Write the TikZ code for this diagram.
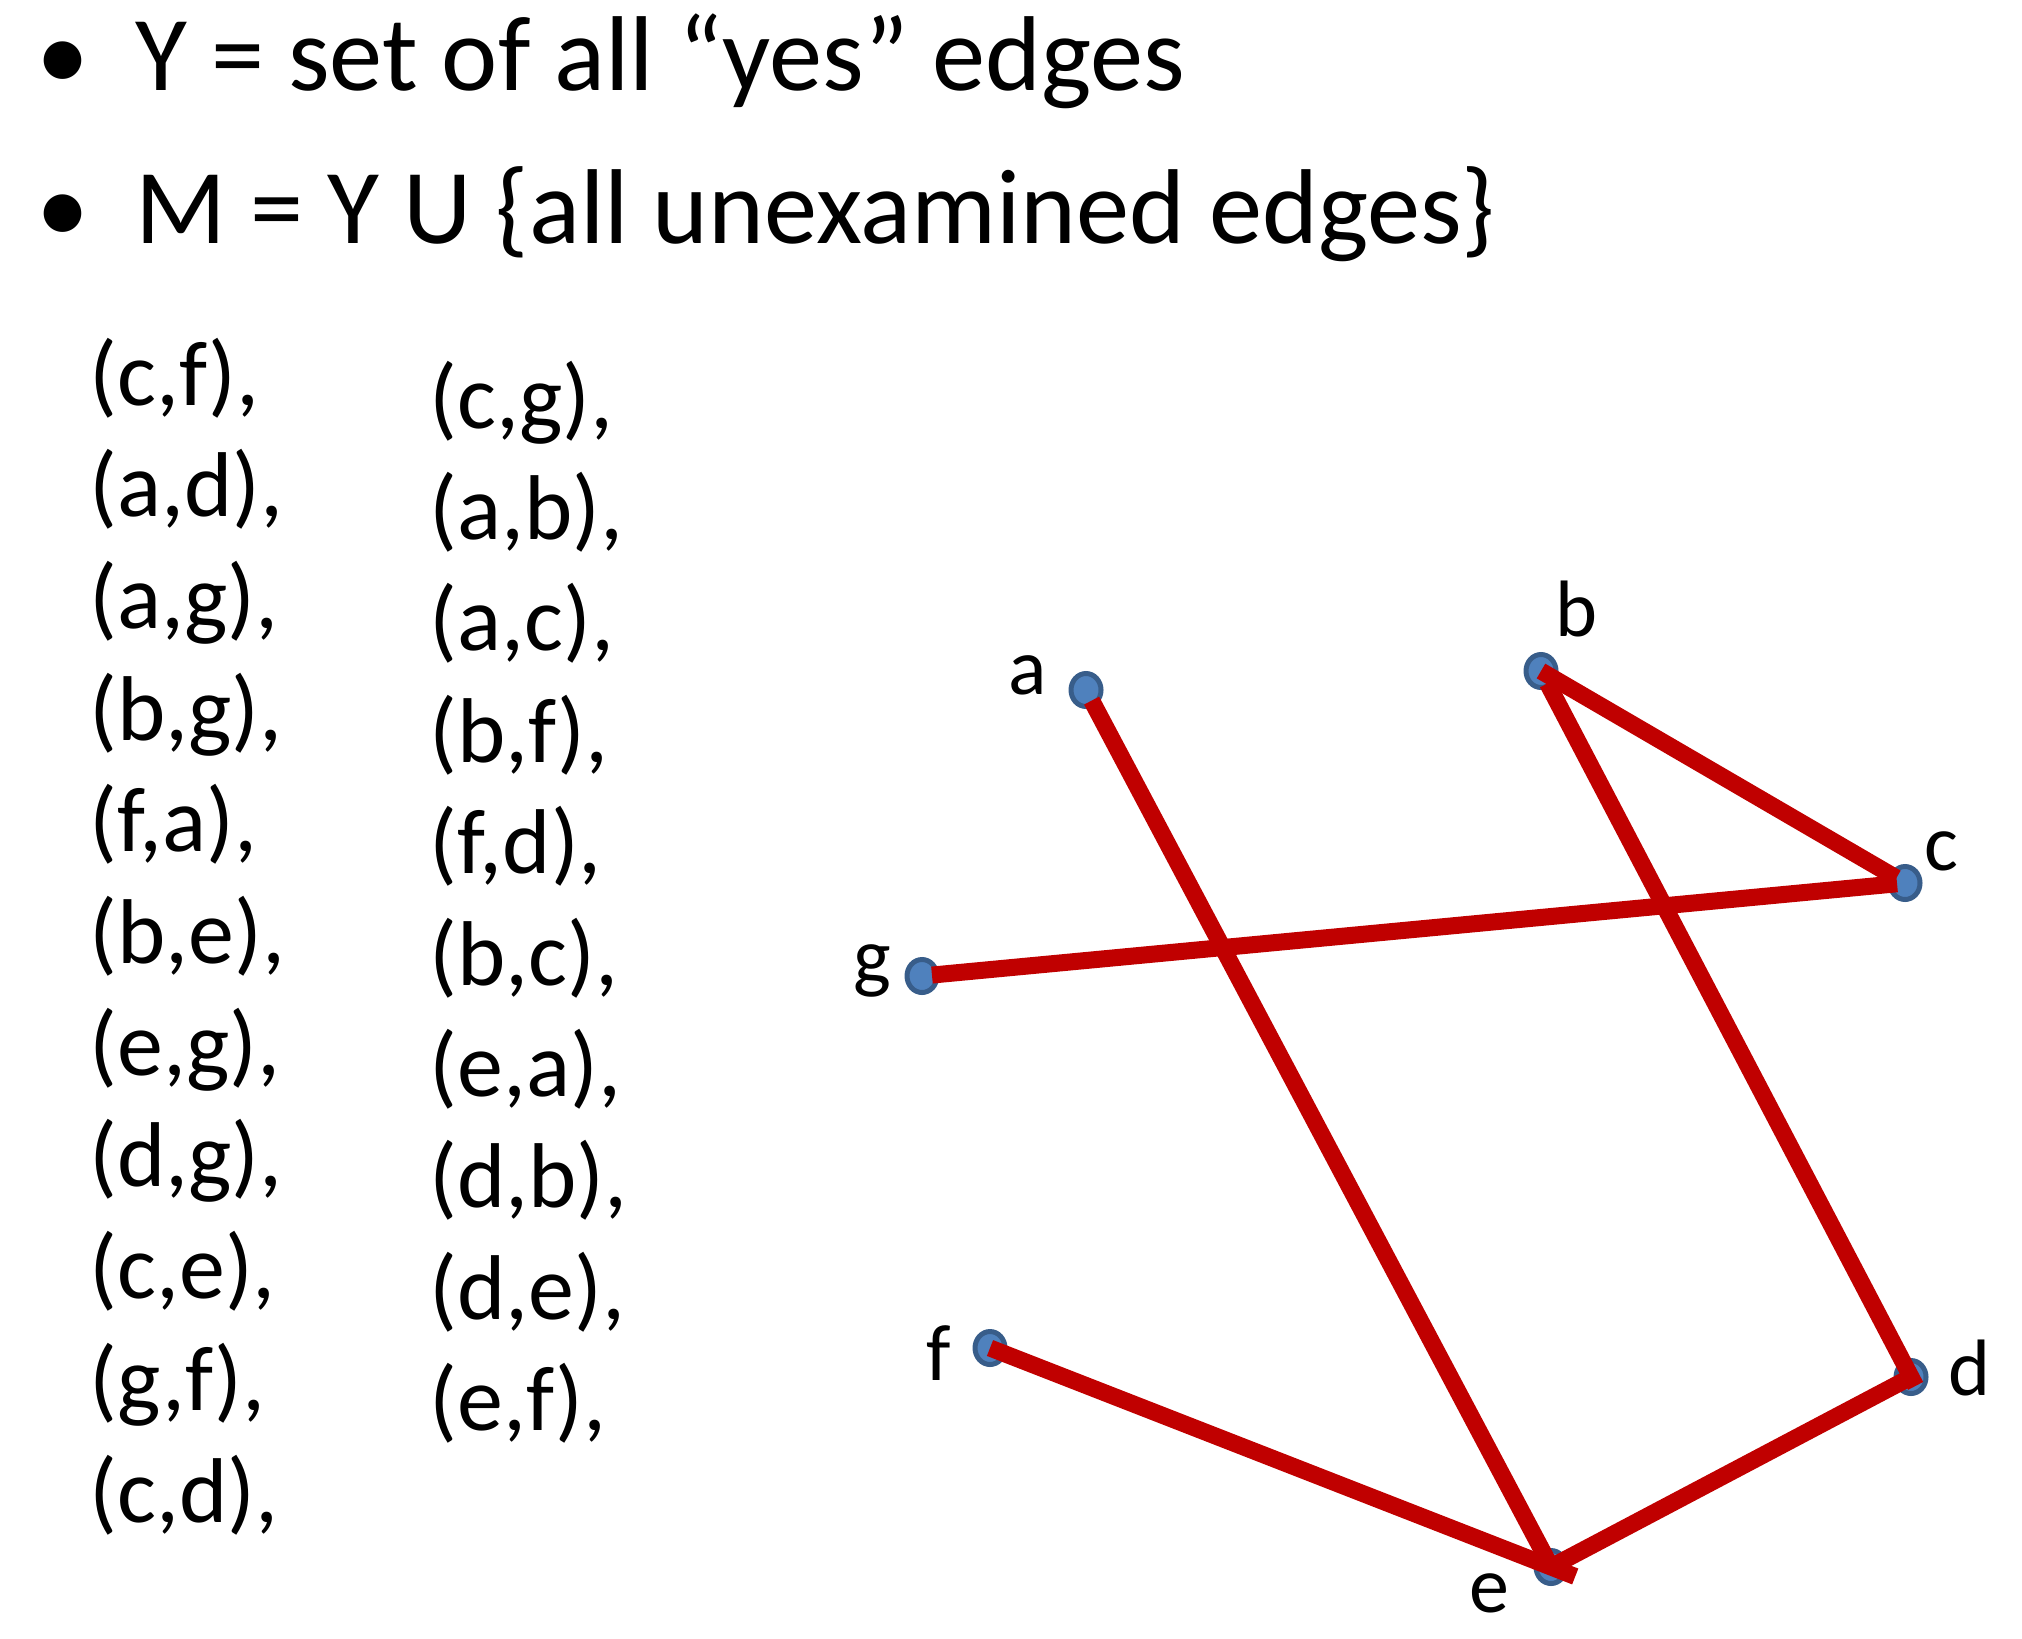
\documentclass[tikz,border=0pt]{standalone}
\usepackage{fontspec}
\setmainfont{Carlito}
\usepackage{tikz}
\usepackage{xcolor}
\usetikzlibrary{shapes.geometric}

\definecolor{vfill}{HTML}{4F81BD}
\definecolor{vrim}{HTML}{385D8A}
\definecolor{yesred}{HTML}{C00000}

\begin{document}
\begin{tikzpicture}[x=0.5pt,y=-0.5pt,
        vertex/.style={ellipse,draw=vrim,fill=vfill,line width=2.5pt,
                       minimum width=15pt,minimum height=16.5pt,inner sep=0pt},
        edge/.style={draw=vfill,line width=1.5pt},
        yes/.style={draw=yesred,line width=8.5pt},
        vlabel/.style={font=\fontsize{40}{48}\selectfont,anchor=base,inner sep=0pt},
        item/.style={font=\fontsize{46}{55}\selectfont,anchor=base west,inner sep=0pt},
        head/.style={font=\fontsize{53.2}{64}\selectfont,anchor=base west,inner sep=0pt}]

        \useasboundingbox (0,0) rectangle (2022,1638);

        % Bullets
        \node[head] (dot1)  at (36,90)   {•};
        \node[head] (yline) at (135,90)  {Y = set of all “yes” edges};
        \node[head] (dot2)  at (36,243)  {•};
        \node[head] (mline) at (135,243) {M = Y U \{all unexamined edges\}};

        % Edge list
        \foreach \txt [count=\i from 0] in {{(c,f),},{(a,d),},{(a,g),},{(b,g),},{(f,a),},
            {(b,e),},{(e,g),},{(d,g),},{(c,e),},{(g,f),},{(c,d),}}
          \node[item] (left\i) at (89,{405+111.7*\i}) {\txt};
        \foreach \txt [count=\i from 0] in {{(c,g),},{(a,b),},{(a,c),},{(b,f),},{(f,d),},
            {(b,c),},{(e,a),},{(d,b),},{(d,e),},{(e,f),}}
          \node[item] (right\i) at (429,{428+111.4*\i}) {\txt};

        % Vertices
        \node[vertex] (a) at (1086,690)  {};
        \node[vertex] (b) at (1541,671)  {};
        \node[vertex] (c) at (1905,883)  {};
        \node[vertex] (d) at (1911,1377) {};
        \node[vertex] (e) at (1551,1567) {};
        \node[vertex] (f) at (990,1348)  {};
        \node[vertex] (g) at (922,976)   {};

        \node[vlabel] (la) at (1028,694)  {a};
        \node[vlabel] (lb) at (1576,636)  {b};
        \node[vlabel] (lc) at (1941,870)  {c};
        \node[vlabel] (ld) at (1969,1395) {d};
        \node[vlabel] (le) at (1489,1612) {e};
        \node[vlabel] (lf) at (939,1380)  {f};
        \node[vlabel] (lg) at (872,983)   {g};

        % Edges
        \draw[edge] (a.center) -- (e.center);
        \draw[edge] (b.center) -- (c.center);
        \draw[edge] (b.center) -- (d.center);
        \draw[edge] (g.center) -- (c.center);
        \draw[edge] (f.center) -- (e.center);
        \draw[edge] (e.center) -- (d.center);

        % Yes edges
        \draw[yes,xshift=-2pt,shorten <=6pt,shorten >=4pt] (a.center) -- (e.center);
        \draw[yes,shorten >=5pt]                          (b.center) -- (c.center);
        \draw[yes,xshift=-1.5pt,shorten <=7pt,shorten >=-5pt] (b.center) -- (d.center);
        \draw[yes,shorten <=5pt,shorten >=4pt]            (g.center) -- (c.center);
        \draw[yes,xshift=-2.2pt,yshift=-5.6pt,shorten >=-13pt] (f.center) -- (e.center);
        \draw[yes,shorten >=4pt]                          (e.center) -- (d.center);
      \end{tikzpicture}
\end{document}
